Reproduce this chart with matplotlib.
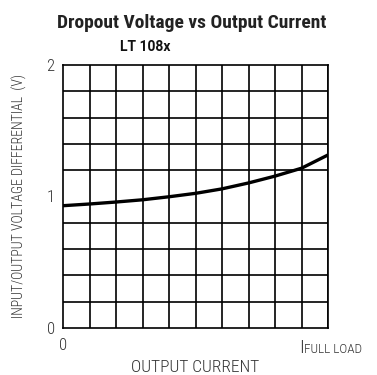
import matplotlib
matplotlib.use("Agg")
import matplotlib.pyplot as plt

# Data (fraction of full-load current, dropout voltage in V)
current_frac = [0.0, 0.1, 0.2, 0.3, 0.4, 0.5, 0.6, 0.7, 0.8, 0.9, 1.0]
dropout_v = [0.930, 0.943, 0.958, 0.975, 0.998, 1.024, 1.058, 1.103, 1.155, 1.215, 1.316]
y_ticks = [0, 1, 2]
y_tick_labels = ["0", "1", "2"]
x_tick_labels = ["0"]

narrow = ["Roboto Condensed", "DejaVu Sans"]
txt_col = "#333333"

fig = plt.figure(figsize=(3.77, 3.75), dpi=100)
ax = fig.add_axes([63/377, 1-328/375, 265/377, 263/375])

ax.set_xlim(0, 1)
ax.set_ylim(0, 2)
ax.set_xticks([i/10 for i in range(11)], minor=True)
ax.set_yticks([i/5 for i in range(11)], minor=True)
ax.grid(True, which="minor", color="black", linewidth=1.2)
ax.set_xticks([0])
ax.set_xticklabels(x_tick_labels, fontfamily=narrow, fontweight="light", fontsize=12, color=txt_col)
ax.set_yticks(y_ticks)
ax.set_yticklabels(y_tick_labels, fontfamily=narrow, fontweight="light", fontsize=12, color=txt_col)
ax.tick_params(axis="y", which="both", length=0, pad=6)
ax.tick_params(axis="x", which="both", length=0, pad=7)
for s in ax.spines.values():
    s.set_linewidth(1.2)

ax.plot(current_frac, dropout_v, color="black", linewidth=2.4, solid_capstyle="butt")

ax.set_xlabel("OUTPUT CURRENT", fontfamily=narrow, fontweight="light", fontsize=12.5,
              color=txt_col, labelpad=5)
fig.text(19/377, 1-196/375, "INPUT/OUTPUT VOLTAGE DIFFERENTIAL  (V)", fontfamily=narrow,
         fontweight="light", fontsize=10, color=txt_col, rotation=90, ha="center", va="center")

ax.text(0.9, -0.04, "I", transform=ax.transAxes, fontfamily=narrow, fontweight="light",
        fontsize=14, color=txt_col, ha="center", va="top")
ax.text(0.91, -0.058, "FULL LOAD", transform=ax.transAxes, fontfamily=narrow, fontweight="light",
        fontsize=9.5, color=txt_col, ha="left", va="top")

fig.text(192/377, 1-23/375, "Dropout Voltage vs Output Current", fontfamily=narrow,
         fontweight="bold", fontsize=14, color="#222222", ha="center", va="center")
fig.text(120/377, 1-47/375, "LT 108x", fontfamily=["Roboto", "DejaVu Sans"],
         fontweight="bold", fontsize=10, color="#111111", ha="left", va="center")

fig.savefig("out.png", dpi=100, facecolor="white")
